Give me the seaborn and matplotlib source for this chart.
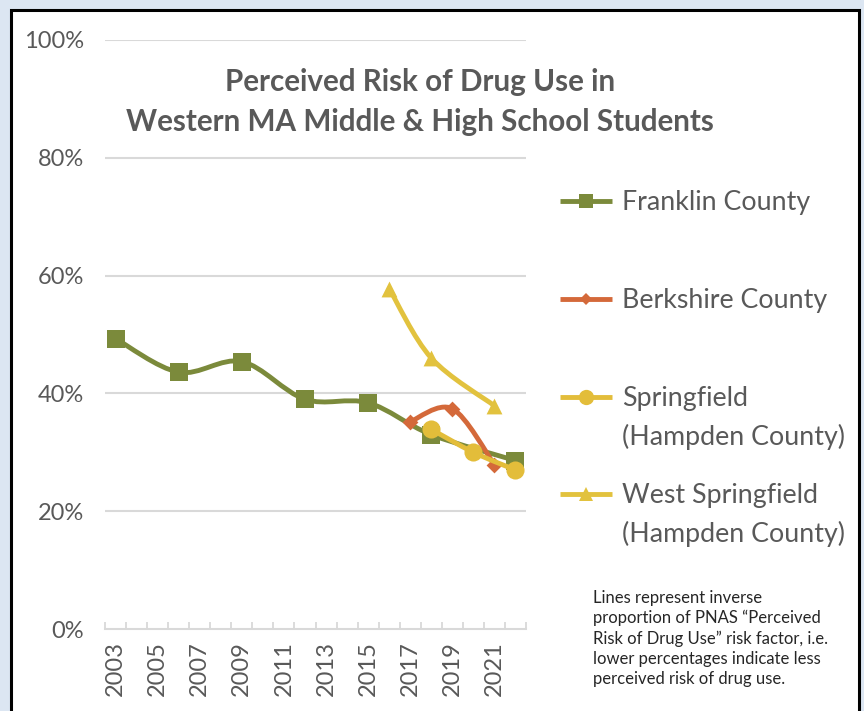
import numpy as np
import pandas as pd
import seaborn as sns
import matplotlib
from matplotlib import pyplot as plt
from matplotlib.path import Path
from matplotlib.patches import PathPatch, Rectangle
from matplotlib.lines import Line2D
from matplotlib.ticker import PercentFormatter, FixedLocator

sns.set_theme(style='white')
plt.rcParams['font.family'] = ['Lato', 'DejaVu Sans']

# data (percent)
franklin_years = [2003, 2006, 2009, 2012, 2015, 2018, 2022]
franklin_vals = [49.3, 43.6, 45.4, 39.0, 38.4, 33.0, 28.6]
berkshire_years = [2017, 2019, 2021]
berkshire_vals = [35.2, 37.4, 27.9]
springfield_years = [2018, 2020, 2022]
springfield_vals = [33.9, 30.0, 27.0]
westspr_years = [2016, 2018, 2021]
westspr_vals = [57.8, 46.0, 37.9]

series_names = ['Franklin County', 'Berkshire County',
                'Springfield\n(Hampden County)', 'West Springfield\n(Hampden County)']
series_years = [franklin_years, berkshire_years, springfield_years, westspr_years]
series_vals = [franklin_vals, berkshire_vals, springfield_vals, westspr_vals]
colors = ['#7b8a3b', '#d4693a', '#e3bd3a', '#e2c23e']
markers = ['s', 'D', 'o', '^']
marker_s = [150, 65, 170, 130]
legend_ms = [10, 6, 11, 10]

year_labels = [str(y) for y in range(2003, 2023, 2)]
title_lines = ['Perceived Risk of Drug Use in', 'Western MA Middle & High School Students']
note = ('Lines represent inverse\nproportion of PNAS \u201cPerceived\n'
        'Risk of Drug Use\u201d risk factor, i.e.\nlower percentages indicate less\n'
        'perceived risk of drug use.')

W, H = 864, 711
TXT = '#595959'


def smooth_path(x, y):
    # excel-style smoothed line (catmull-rom as bezier)
    pts = np.column_stack([x, y]).astype(float)
    verts = [pts[0]]
    codes = [Path.MOVETO]
    n = len(pts)
    for i in range(n - 1):
        p0 = pts[i - 1] if i > 0 else pts[i]
        p1, p2 = pts[i], pts[i + 1]
        p3 = pts[i + 2] if i + 2 < n else pts[i + 1]
        verts += [p1 + (p2 - p0) / 6, p2 - (p3 - p1) / 6, p2]
        codes += [Path.CURVE4] * 3
    return Path(verts, codes)


fig = plt.figure(figsize=(W / 100, H / 100), dpi=100, facecolor='#dce6f2')
fig.add_artist(Rectangle((11 / W, -0.02), 848 / W, 1 - 9.5 / H + 0.02, transform=fig.transFigure,
                         facecolor='white', edgecolor='black', lw=2.2, zorder=0))

ax = fig.add_axes([105 / W, (H - 629) / H, 421 / W, 589 / H])
ax.set_facecolor('none')

for i, (name, yrs, vals) in enumerate(zip(series_names, series_years, series_vals)):
    df = pd.DataFrame({'year': yrs, 'value': vals})
    ax.add_patch(PathPatch(smooth_path(df['year'], df['value']), facecolor='none',
                           edgecolor=colors[i], lw=3.5, capstyle='round', joinstyle='round',
                           zorder=3 + 2 * i))
    sns.scatterplot(data=df, x='year', y='value', marker=markers[i], s=marker_s[i],
                    color=colors[i], linewidth=0, ax=ax, zorder=4 + 2 * i)

ax.set_xlim(2002.5, 2022.5)
ax.set_ylim(0, 100)
ax.set_xlabel('')
ax.set_ylabel('')

ax.yaxis.set_major_locator(FixedLocator([0, 20, 40, 60, 80, 100]))
ax.yaxis.set_major_formatter(PercentFormatter(100, decimals=0))
for yv in [20, 40, 60, 80, 100]:
    ax.axhline(yv, color='#d9d9d9', lw=1.5, zorder=1)
ax.tick_params(axis='y', length=0, pad=15, labelsize=17, labelcolor=TXT)

ax.set_xticks(list(range(2003, 2023, 2)))
ax.set_xticklabels(year_labels, rotation=90)
ax.set_xticks(np.arange(2002.5, 2023, 1), minor=True)
ax.tick_params(axis='x', which='major', length=0, pad=9, labelsize=17, labelcolor=TXT)
ax.tick_params(axis='x', which='minor', direction='in', length=5, width=1.3, color='#d9d9d9',
               bottom=True)

for side in ['top', 'right', 'left']:
    ax.spines[side].set_visible(False)
ax.spines['bottom'].set_color('#d9d9d9')
ax.spines['bottom'].set_linewidth(1.5)

fig.text(420 / W, 1 - 82 / H, title_lines[0], ha='center', va='center', fontsize=21.3,
         fontweight='bold', color=TXT)
fig.text(420 / W, 1 - 122 / H, title_lines[1], ha='center', va='center', fontsize=21.3,
         fontweight='bold', color=TXT)

# legend drawn by hand to match the spacing
leg_y = [201, 299, 397, 494]
for i, name in enumerate(series_names):
    yy = 1 - leg_y[i] / H
    fig.add_artist(Line2D([560 / W, 612 / W], [yy, yy], transform=fig.transFigure,
                          color=colors[i], lw=3.5, solid_capstyle='butt'))
    fig.add_artist(Line2D([586 / W], [yy], transform=fig.transFigure, color=colors[i],
                          marker=markers[i], ms=legend_ms[i], mew=0, linestyle='none'))
    for j, line in enumerate(name.split('\n')):
        fig.text(622 / W, 1 - (leg_y[i] + 9 + 39 * j) / H, line, ha='left', va='baseline',
                 fontsize=19.3, color=TXT)

fig.text(593 / W, 1 - 590 / H, note, ha='left', va='top', fontsize=12, color='#262626',
         linespacing=1.3)

fig.savefig('out.png', dpi=100, facecolor=fig.get_facecolor())
